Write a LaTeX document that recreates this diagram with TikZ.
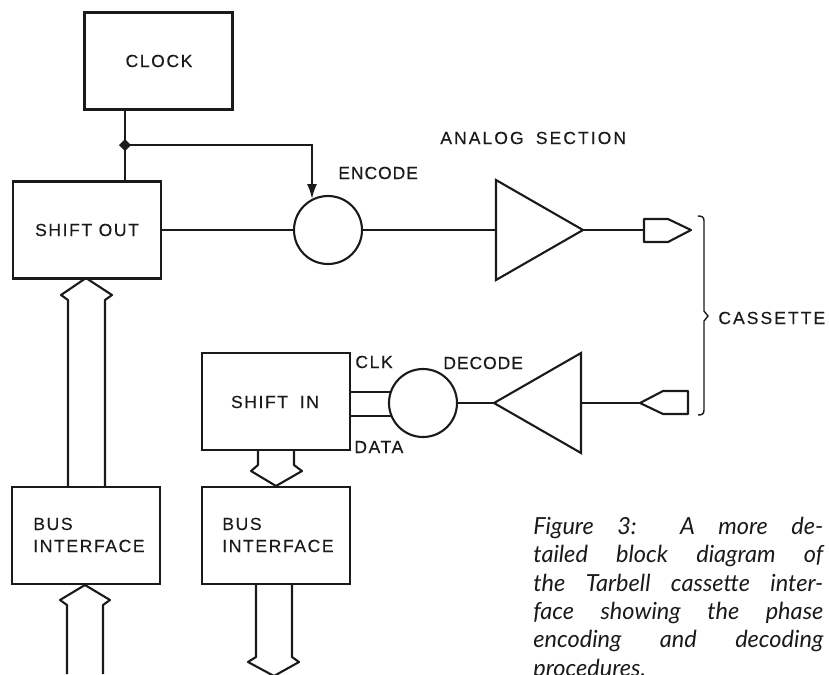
\documentclass[tikz,border=0pt]{standalone}
\usepackage{fontspec}
\setmainfont{Liberation Sans}
\newfontfamily\blocklabel[LetterSpace=9,FakeBold=0.3]{Liberation Sans}
\newfontfamily\tightlabel[LetterSpace=5,FakeBold=0.3]{Liberation Sans}
\newfontfamily\widelabel[LetterSpace=11.5,FakeBold=0.3]{Liberation Sans}
\newfontfamily\captionfont[ItalicFont=Lato Italic]{Lato}
\usetikzlibrary{
  positioning, arrows.meta, shapes.geometric, calc
}
\definecolor{inkP}{HTML}{1A1A1A}
\tikzset{
  wire/.style={inkP, line width=1.2pt},
  blockbox/.style={draw=inkP, line width=1.2pt, outer sep=0pt, minimum width=148*0.02cm, minimum height=97*0.02cm, inner sep=0pt},
  mixer/.style={circle, draw=inkP, line width=1.2pt, outer sep=0pt, minimum size=68*0.02cm, inner sep=0pt},
  amplifier/.style={isosceles triangle, isosceles triangle stretches, draw=inkP, line width=1.2pt, outer sep=0pt, inner sep=0pt, minimum width=100*0.02cm, minimum height=87*0.02cm},
  tag/.style={font=\blocklabel\fontsize{10}{12}\selectfont, text=inkP, inner sep=0pt},
  tighttag/.style={tag, font=\tightlabel\fontsize{10}{12}\selectfont},
  widetag/.style={tag, font=\widelabel\fontsize{10}{12}\selectfont}
}
\begin{document}
\begin{tikzpicture}[x=0.02cm, y=-0.02cm]
\useasboundingbox (0,0) rectangle (829,674);
\clip (0,0) rectangle (829,674);
% blocks
\node[blockbox] (clock) at (158.5,61) {};
\node[tag] (clocktxt) at (159,61) {CLOCK};
\node[blockbox] (shiftout) at (87,230) {};
\node[tag] (shiftouttxt) at (87,230) {SHIFT OUT};
\node[blockbox] (shiftin) at (276,401.5) {};
\node[tag] (shiftintxt) at (275,402) {SHIFT\hspace{3pt} IN};
\node[blockbox] (busleft) at (86,535.5) {};
\node[tag, anchor=base west] (busleftone) at (33,530) {BUS};
\node[tag, anchor=base west] (buslefttwo) at (33,552) {INTERFACE};
\node[blockbox] (busright) at (276,535.5) {};
\node[tag, anchor=base west] (busrightone) at (222,530) {BUS};
\node[tag, anchor=base west] (busrighttwo) at (222,552) {INTERFACE};
% analog part
\node[mixer] (encode) at (328,230) {};
\node[mixer] (decode) at (423,403) {};
\node[amplifier, anchor=lower side] (ampout) at (496,230) {};
\node[amplifier, shape border rotate=180, anchor=lower side] (ampin) at (581,403) {};
\node[tighttag, anchor=west] (encodetxt) at (338,173) {ENCODE};
\node[tighttag, anchor=west] (decodetxt) at (443,363) {DECODE};
\node[widetag, anchor=west] (analogtxt) at (440,138) {ANALOG\hspace{3pt} SECTION};
\node[widetag, anchor=west] (cassettetxt) at (718,318) {CASSETTE};
\node[tag, anchor=west] (clktxt) at (355,362) {CLK};
\node[tag, anchor=west] (datatxt) at (354,447) {DATA};
% plugs
\coordinate (plugout) at (644,230);
\coordinate (plugin) at (640,403);
\draw[wire, line join=round] (plugout) -- (644,219) -- (668,219) -- (691,230) -- (668,242) -- (644,242) -- cycle;
\draw[wire, line join=round] (plugin) -- (663,391) -- (688,391) -- (688,414) -- (663,414) -- cycle;
% wires
\coordinate (tap) at (125,145);
\draw[wire] (clock.south -| tap) -- (tap) -- (shiftout.north -| tap);
\fill[inkP] (125,139) -- (131,145) -- (125,151) -- (119,145) -- cycle;
\draw[wire, -{Latex[length=15*0.02cm, width=10*0.02cm]}] (tap) -- (312,145) -- (312,199);
\draw[wire] (shiftout.east) -- (encode.west);
\draw[wire] (encode.east) -- (ampout.lower side);
\draw[wire] (ampout.apex) -- (plugout);
\draw[wire] (decode.east) -- (ampin.apex);
\draw[wire] (ampin.lower side) -- (plugin);
\draw[wire] (shiftin.east |- 0,392) -- (391,392);
\draw[wire] (shiftin.east |- 0,416) -- (391,416);
% bus arrows
\draw[wire, line join=round] (68,487) -- (68,300) -- (61,295) -- (86,278) -- (112,295) -- (105,300) -- (105,487);
\draw[wire, line join=round] (258,450) -- (258,465) -- (251,471) -- (276,486) -- (302,471) -- (294,465) -- (294,450);
\draw[wire, line join=round] (67,674) -- (67,605) -- (60,600) -- (85,585) -- (110,600) -- (103,605) -- (103,674);
\draw[wire, line join=round] (256,584) -- (256,657) -- (248,662) -- (274,676) -- (299,662) -- (292,657) -- (292,584);
% cassette brace
\draw[wire, line width=0.8pt] (698,216) .. controls (702,216) and (704,217) .. (704,221) -- (704,311) -- (708,316) -- (704,321) -- (704,410) .. controls (704,414) and (702,415) .. (698,415);
% caption
\node[anchor=north west, inner sep=0pt, text width=290*0.02cm, align=justify, text=inkP,
  font=\captionfont\itshape\fontsize{13.4}{16.1}\selectfont] (figcaption) at (533,517)
  {Figure 3: A more de-\linebreak tailed block diagram of\linebreak the Tarbell cassette inter-\linebreak face showing the phase\linebreak encoding and decoding\linebreak procedures.};
\end{tikzpicture}
\end{document}
